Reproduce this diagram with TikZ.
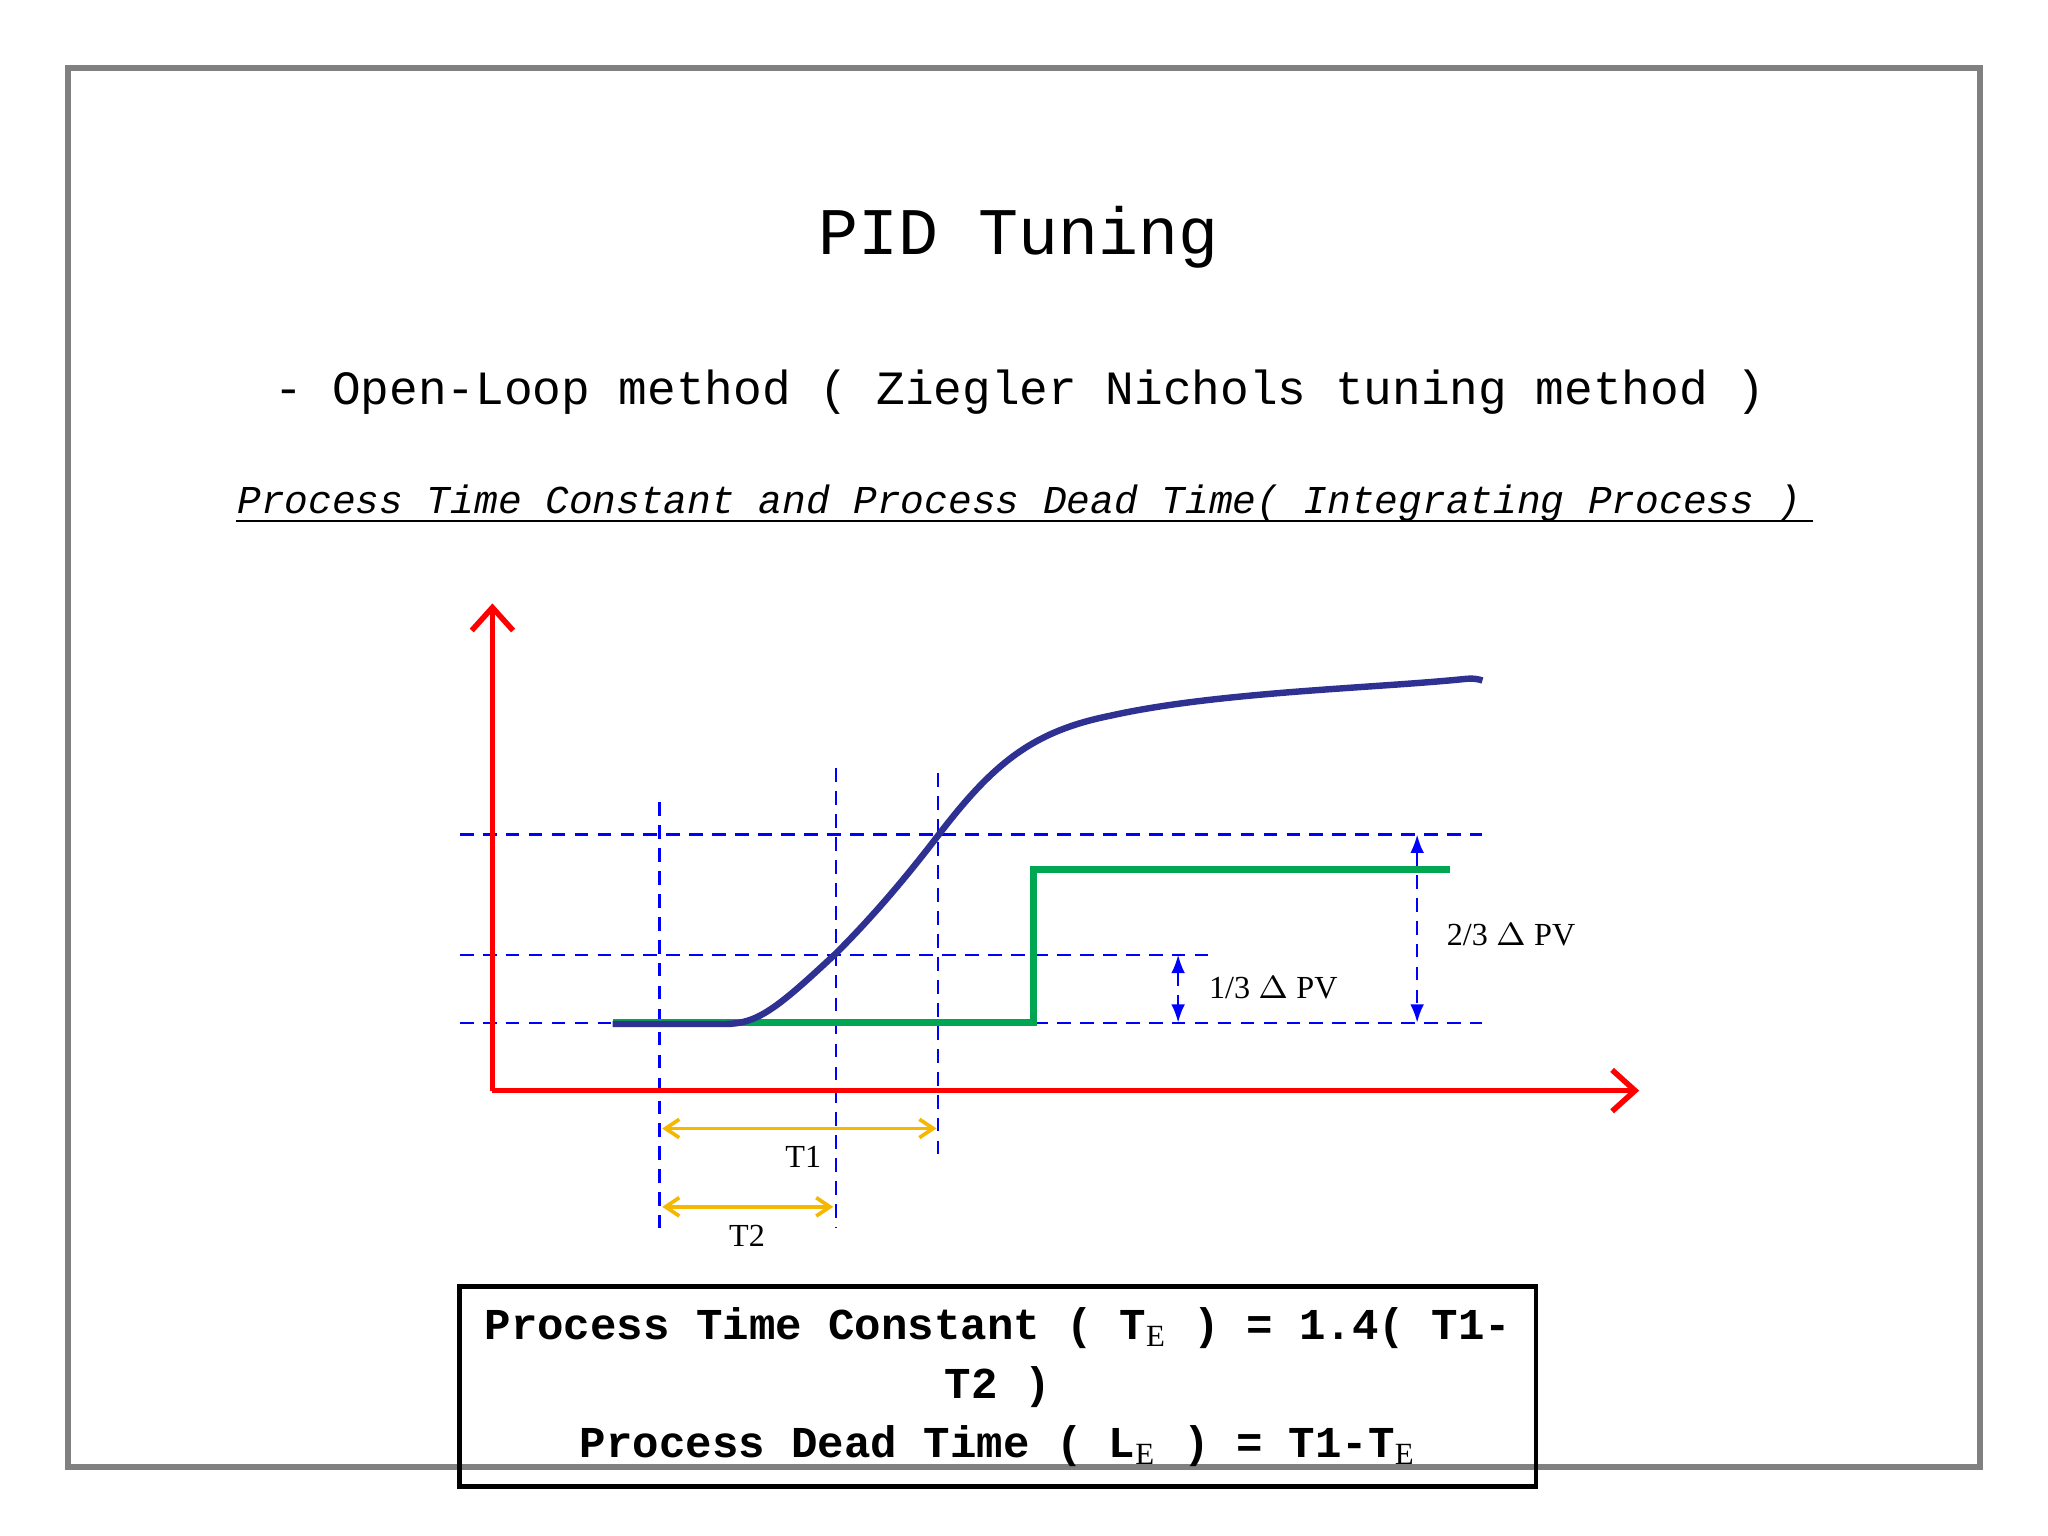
\documentclass[tikz,border=0pt]{standalone}
\usepackage{fontspec}
\setmainfont{Liberation Serif}
\newfontfamily\monof{Liberation Mono}
\usetikzlibrary{arrows.meta}
\definecolor{navy}{HTML}{2E3192}
\definecolor{grn}{HTML}{00A651}
\definecolor{yel}{HTML}{F5B800}
\tikzset{
 guide/.style={blue, dashed, line width=0.5pt, dash pattern=on 3pt off 2pt},
 axis/.style={red, line width=1.2pt, -{Straight Barb[length=5pt,width=9pt]}},
 dimarr/.style={blue, dashed, line width=0.5pt, dash pattern=on 3pt off 2pt, {Latex[length=4pt,width=3pt]}-{Latex[length=4pt,width=3pt]}},
 yarr/.style={yel, line width=0.8pt, {Straight Barb[length=3pt,width=4pt]}-{Straight Barb[length=3pt,width=4pt]}},
 lbl/.style={font=\fontsize{7}{8}\selectfont, inner sep=0pt}
}
\begin{document}
\begin{tikzpicture}[x=0.01cm,y=-0.01cm]
\useasboundingbox (0,0) rectangle (1568,1176);
\fill[white] (0,0) rectangle (1568,1176);
\draw[gray, line width=1.2pt] (52,52) rectangle (1516,1123);
\node (title) at (780,182) {\monof\fontsize{14.5}{16}\selectfont PID Tuning};
\node (sub) at (781,300) {\monof\fontsize{10.4}{12}\selectfont - Open-Loop method ( Ziegler Nichols tuning method )};
\node[anchor=base west, inner sep=0pt] (proc) at (181,393) {\monof\itshape\fontsize{8.6}{10}\selectfont Process Time Constant and Process Dead Time( Integrating Process )};
\draw[line width=0.5pt] (181,399) -- (1388,399);
% guides
\coordinate (h1a) at (352,639); \coordinate (h1b) at (1135,639);
\coordinate (h2a) at (352,731); \coordinate (h2b) at (925,731);
\coordinate (h3a) at (352,783); \coordinate (h3b) at (1135,783);
\draw[guide] (h1a) -- (h1b);
\draw[guide] (h2a) -- (h2b);
\draw[guide] (h3a) -- (h3b);
\draw[guide] (505,614) -- (505,940);
\draw[guide] (640,588) -- (640,940);
\draw[guide] (718,592) -- (718,888);
% axes
\coordinate (o) at (377,835);
\draw[axis] (o) -- (377,462);
\draw[axis] (o) -- (1255,835);
% green step
\draw[grn, line width=1.5pt] (469,783) -- (791,783) -- (791,666) -- (1110,666);
% curve
\draw[navy, line width=1.4pt] (469,784) -- (555,784) .. controls (580,784) and (595,772) .. (640,730)
  .. controls (670,700) and (695,670) .. (718,640)
  .. controls (760,585) and (790,560) .. (850,548)
  .. controls (930,530) and (1050,527) .. (1120,520) .. controls (1128,519) and (1132,520) .. (1135,521);
% dims
\draw[dimarr] (902,731) -- (902,783);
\node[lbl, anchor=west] (l13) at (925,756) {1/3 $\Delta$ PV};
\draw[dimarr] (1085,639) -- (1085,783);
\node[lbl, anchor=west] (l23) at (1107,716) {2/3 $\Delta$ PV};
\draw[yarr] (507,864) -- (717,864);
\node[lbl] (t1) at (615,886) {T1};
\draw[yarr] (507,924) -- (638,924);
\node[lbl] (t2) at (572,946) {T2};
% formula box
\draw[line width=1pt] (352,985) rectangle (1176,1138);
\node[align=center, inner sep=0pt, font=\monof\bfseries\fontsize{9.6}{12.8}\selectfont] (form) at (764,1062) {Process Time Constant ( T$_{\mathrm{E}}$ ) = 1.4( T1-\\T2 )\\Process Dead Time ( L$_{\mathrm{E}}$ ) = T1-T$_{\mathrm{E}}$};
\end{tikzpicture}
\end{document}
